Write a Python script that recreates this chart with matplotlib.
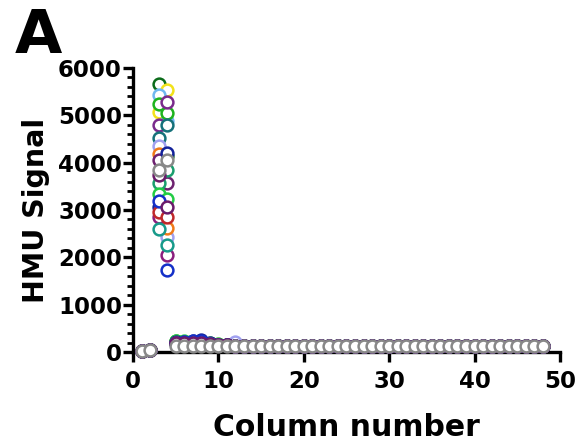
#!/usr/bin/env python
"""
plot.py
=======
HMU signal per column, one open-circle series per plate row.
"""
import numpy as np
import matplotlib
matplotlib.use("Agg")
import matplotlib.pyplot as plt

SIZE = np.array([579, 444])

columns = np.arange(1, 49)

# one colour per row; grey is drawn last, on top
row_colors = ["#0B6B1A", "#F2E21A", "#6FB7F0", "#1DB31D", "#7A2A8C", "#15717A",
              "#A0A0F0", "#F07A18", "#6E2270", "#1A9E6E", "#22CC44", "#13229A",
              "#8B1E7E", "#179A8A", "#C0282A", "#1430C8", "#6A1B6A", "#888888"]

# column 3 and column 4 (the positive controls)
col3 = [5660, 5070, 5440, 5250, 4790, 4530, 4350, 4180, 4060, 3570, 3340, 3060,
        2850, 2600, 2950, 3200, 3750, 3840]
col4 = [4150, 5530, 4880, 5040, 5290, 4790, 2420, 2610, 3570, 3840, 3240, 4200,
        2050, 2260, 2850, 1740, 3070, 4060]

# columns 5..12, slightly above the grey baseline for the coloured rows
early = [
    [200, 190, 180, 170, 160, 150, 140, 130],
    [190, 180, 170, 160, 150, 150, 140, 130],
    [180, 170, 170, 160, 150, 140, 140, 150],
    [230, 220, 220, 200, 180, 160, 150, 140],
    [210, 200, 210, 200, 170, 150, 140, 130],
    [200, 210, 220, 210, 170, 150, 140, 130],
    [170, 160, 160, 160, 150, 150, 140, 210],
    [220, 200, 180, 170, 160, 150, 140, 130],
    [190, 200, 210, 210, 160, 150, 140, 130],
    [200, 210, 220, 220, 170, 150, 140, 130],
    [230, 230, 220, 210, 170, 150, 140, 130],
    [210, 220, 240, 250, 180, 150, 140, 130],
    [190, 200, 200, 210, 160, 150, 140, 130],
    [200, 210, 210, 200, 160, 150, 140, 130],
    [180, 190, 190, 180, 150, 150, 140, 130],
    [200, 210, 230, 240, 170, 150, 140, 130],
    [190, 200, 200, 200, 160, 150, 140, 130],
    [130, 130, 130, 130, 130, 130, 130, 130],
]

# columns 1, 2 and 13..48 (all rows sit on the grey baseline)
first_two = [25, 50]
baseline = [130, 130, 130, 130, 130, 130, 130, 130, 130, 130, 130, 130,
            130, 130, 130, 130, 130, 130, 130, 130, 130, 130, 130, 130,
            130, 130, 130, 130, 130, 130, 130, 130, 130, 130, 130, 130]

plt.rcParams["font.family"] = ["DejaVu Sans"]
plt.rcParams["font.weight"] = "bold"

fig = plt.figure(figsize=SIZE / 100., dpi=100)
ax = fig.add_axes([0.2297, 0.2072, 0.967 - 0.2297, 0.8468 - 0.2072])

for i, c in enumerate(row_colors):
    vals = first_two + [col3[i], col4[i]] + early[i] + baseline
    ax.plot(columns, vals, "o", ms=8.5, mfc="white", mec=c, mew=1.8,
            clip_on=False, zorder=3 + i * 0.01)

ax.set_xlim(0, 50)
ax.set_ylim(0, 6000)
ax.set_xticks(range(0, 51, 10))
ax.set_yticks(range(0, 6001, 1000))
ax.set_yticks(range(0, 6001, 200), minor=True)

for s in ["top", "right"]:
    ax.spines[s].set_visible(False)
for s in ["left", "bottom"]:
    ax.spines[s].set_linewidth(2.4)

ax.tick_params(axis="both", which="major", length=7, width=2.4, labelsize=16.5)
ax.tick_params(axis="x", which="major", pad=6)
ax.tick_params(axis="y", which="major", pad=1)
ax.tick_params(axis="y", which="minor", length=4, width=2.0)
for lab in ax.get_xticklabels() + ax.get_yticklabels():
    lab.set_fontweight("bold")

ax.set_ylabel("HMU Signal", fontsize=20.5, fontweight="bold")
ax.yaxis.set_label_coords(-0.195, 0.5)
ax.set_xlabel("Column number", fontsize=21.5, fontweight="bold")
ax.xaxis.set_label_coords(0.5, -0.215)

fig.text(0.066, 1 - 53 / 444., "A", fontsize=44, fontweight="bold",
         ha="center", va="baseline")

plt.savefig("out.png", dpi=100)
